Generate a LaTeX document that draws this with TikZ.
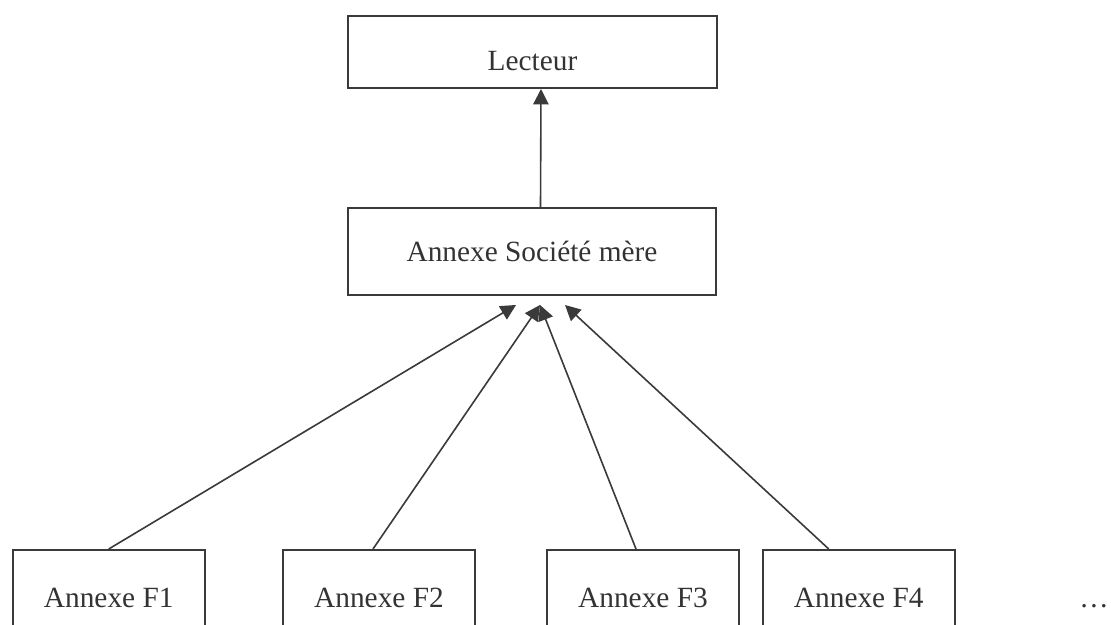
\documentclass[tikz,border=0pt]{standalone}
\usepackage{fontspec}
\setmainfont{Liberation Serif}
\usetikzlibrary{arrows.meta,calc}
\definecolor{linegray}{HTML}{3A3A3A}
\definecolor{textgray}{HTML}{333333}
\begin{document}
\begin{tikzpicture}[x=0.75pt,y=-0.75pt,
  font=\fontsize{22}{26}\selectfont, text=textgray,
  box/.style={draw=linegray, line width=1.5pt, rectangle, inner sep=0pt},
  topbox/.style={box, anchor=base, minimum width=369*0.75pt,
    text height=54*0.75pt, text depth=18*0.75pt},
  midbox/.style={box, minimum width=368*0.75pt, minimum height=87*0.75pt},
  leafbox/.style={box, anchor=base, minimum width=192*0.75pt,
    text height=57*0.75pt, text depth=80*0.75pt},
  arr/.style={draw=linegray, line width=1.2pt,
    -{Triangle[length=11.5pt,width=11.5pt]}}]
  \clip (0,0) rectangle (1111,625);
  \fill[white] (0,0) rectangle (1111,625);

  % upper levels
  \node[topbox] (lecteur) at (532.5,70) {Lecteur};
  \node[midbox] (mere) at (532,251.5) {Annexe Société mère};

  % subsidiary annexes (boxes run past the lower edge)
  \node[leafbox] (f1) at (108.75,607) {Annexe F1};
  \node[leafbox] (f2) at (379,607) {Annexe F2};
  \node[leafbox] (f3) at (643,607) {Annexe F3};
  \node[leafbox] (f4) at (858.75,607) {Annexe F4};
  \node[anchor=base] (more) at (1094,607) {…};

  % connectors
  \draw[arr] ($(mere.north)+(8.5,0)$) -- ($(lecteur.south)+(8.5,0)$);
  \draw[arr] (f1.north) -- ($(mere.south)+(-16,9)$);
  \draw[arr] ($(f2.north)+(-6,0)$) -- ($(mere.south)+(8,9)$);
  \draw[arr] ($(f3.north)+(-7,0)$) -- ($(mere.south)+(8,9)$);
  \draw[arr] ($(f4.north)+(-30,0)$) -- ($(mere.south)+(33,9)$);
\end{tikzpicture}
\end{document}
